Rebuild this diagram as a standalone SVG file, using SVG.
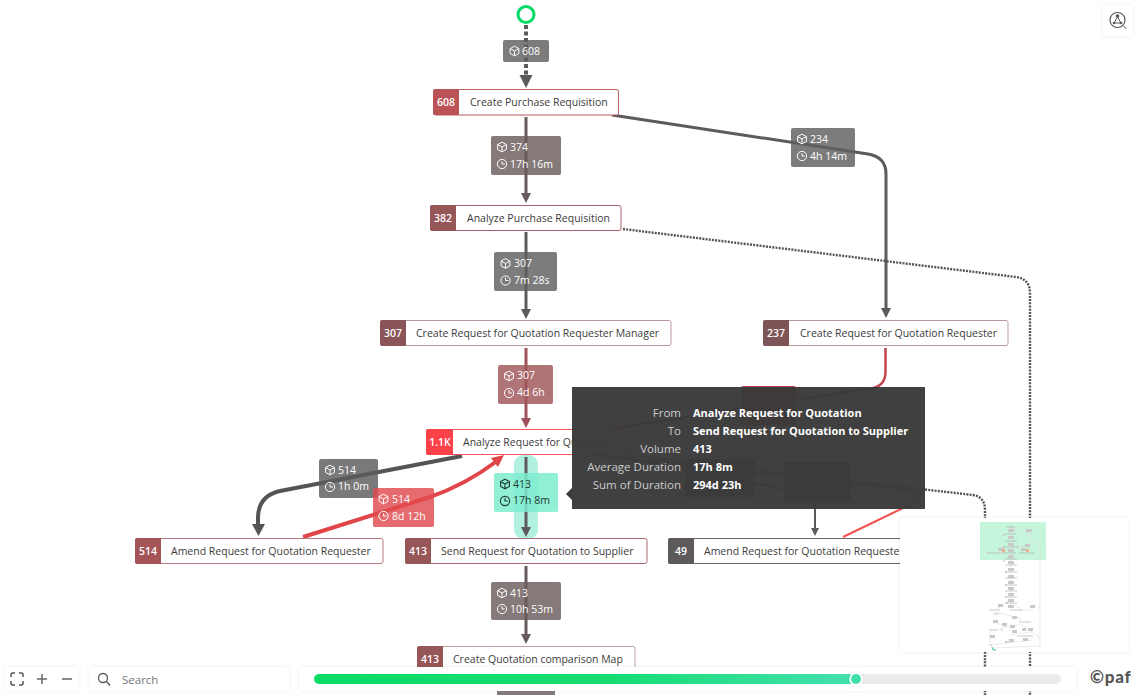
<svg xmlns="http://www.w3.org/2000/svg" xmlns:xlink="http://www.w3.org/1999/xlink" width="1141" height="695" viewBox="0 0 1141 695">
<style>
text{font-family:"Open Sans","Noto Sans","Liberation Sans",sans-serif}
.nb{fill:#fff;stroke-width:1}
.nt{font-size:10.5px;fill:#3c3c3c}
.nc{font-size:10.5px;fill:#fff;text-anchor:middle;font-weight:600}
.lt{font-size:10.5px;fill:#fff}
.ld{font-size:10.5px;fill:#1c3a33}
.e{fill:none;stroke-linecap:butt}
.dot{fill:none;stroke:#555;stroke-width:2.400;stroke-dasharray:2 1.200}
.tk{font-size:11.5px;fill:#ccc;text-anchor:end}
.tv{font-size:11px;fill:#fff;font-weight:700}
.ic{fill:none;stroke:#fff;stroke-width:.9}
.icd{fill:none;stroke:#1c3a33;stroke-width:1}
.pn{fill:#fff;filter:url(#sh)}
.mlb{fill:#c9c9c9;stroke:none}
</style>
<defs>
<filter id="sh" x="-10%" y="-30%" width="120%" height="160%"><feDropShadow dx="0" dy="0" stdDeviation="2" flood-color="#000" flood-opacity=".07"/></filter>
<symbol id="cube" viewBox="0 0 10 10" overflow="visible"><path d="M5 .6 9 2.8V7.2L5 9.4 1 7.2V2.8ZM1 2.8 5 5 9 2.8M5 5V9.4"/></symbol>
<symbol id="clock" viewBox="0 0 10 10" overflow="visible"><circle cx="5" cy="5" r="4.200"/><path d="M5 2.400V5H7.600"/></symbol>
<linearGradient id="sl" x1="0" x2="1" y1="0" y2="0"><stop offset="0" stop-color="#0edb66"/><stop offset=".55" stop-color="#16dd72"/><stop offset="1" stop-color="#45e0b0"/></linearGradient>
</defs>
<rect width="1141" height="695" fill="#fff"/>
<rect x="514" y="455" width="24" height="84" rx="9" fill="#b2f1e1"/>
<g id="connectors">
<path class="e" d="M526 25V78" stroke="#5c5a5a" stroke-width="4" stroke-dasharray="4 2.500"/>
<path d="M519.500 75H532.500L526 88Z" fill="#5c5a5a"/>
<path class="e" d="M526 117V195" stroke="#665a5c" stroke-width="3"/>
<path d="M521 193H531L526 203Z" fill="#665a5c"/>
<path class="e" d="M612 115 868 154Q886 157 886 174V310" stroke="#5c5a5a" stroke-width="3"/>
<path d="M881 308H891L886 318Z" fill="#5c5a5a"/>
<path class="e" d="M526 232V311" stroke="#5c5a5a" stroke-width="3"/>
<path d="M521 309H531L526 319Z" fill="#5c5a5a"/>
<path class="e" d="M526 348V420" stroke="#a0525a" stroke-width="3"/>
<path d="M521 418H531L526 428Z" fill="#a0525a"/>
<path class="e" d="M885.500 348V372Q885.500 385 873 388L622 427" stroke="#c0444c" stroke-width="2.500"/>
<path d="M622 423 612 429 623 431Z" fill="#c0444c"/>
<path class="e" d="M593 455 910 490Q920 492 920 497 920 503 903 508L843 537" stroke="#f25252" stroke-width="2"/>
<path class="dot" d="M623 229 1016 277Q1030 279 1030 293V695"/>
<path class="dot" d="M623 455 973 495Q985 497 985 510V695"/>
<path class="e" d="M625 458 795 491Q815 495 815 508V530" stroke="#5c5a5a" stroke-width="2"/>
<path d="M811 528H819L815 536Z" fill="#5c5a5a"/>
<path class="e" d="M462 456 280 491Q258 496 258 518V526" stroke="#555" stroke-width="4"/>
<path d="M252 524H265L258.500 536Z" fill="#555"/>
<path class="e" d="M303 537 430 497Q465 485 497 461" stroke="#e04649" stroke-width="4"/>
<path d="M491 458 504 455 498 467Z" fill="#e04649"/>
<path class="e" d="M526 457V529" stroke="#5c5a5a" stroke-width="3"/>
<path d="M521 527H531L526 537Z" fill="#5c5a5a"/>
<path class="e" d="M526 566V636" stroke="#665a5c" stroke-width="3"/>
<path d="M521 634H531L526 644Z" fill="#665a5c"/>
<path class="e" d="M526 672V695" stroke="#665a5c" stroke-width="3"/>
</g>
<g id="edge-labels">
<g id="lb-608"><rect x="503" y="40" width="46" height="22" rx="2" fill="#5f5f5f" fill-opacity=".82"/><use href="#cube" x="509" y="45.500" width="11" height="11" class="ic"/><text class="lt" x="522" y="55">608</text></g>
<g id="lb-374"><rect x="491" y="136" width="70" height="39" rx="2" fill="#6a5c5c" fill-opacity=".82"/><use href="#cube" x="496.500" y="141.500" width="11" height="11" class="ic"/><text class="lt" x="510" y="151">374</text><use href="#clock" x="496.500" y="158.500" width="11" height="11" class="ic"/><text class="lt" x="510" y="168">17h 16m</text></g>
<g id="lb-234"><rect x="791" y="128" width="64" height="39" rx="2" fill="#5f5f5f" fill-opacity=".82"/><use href="#cube" x="796.500" y="133.500" width="11" height="11" class="ic"/><text class="lt" x="810" y="143">234</text><use href="#clock" x="796.500" y="150.500" width="11" height="11" class="ic"/><text class="lt" x="810" y="160">4h 14m</text></g>
<g id="lb-307a"><rect x="494" y="252" width="63" height="39" rx="2" fill="#5f5f5f" fill-opacity=".82"/><use href="#cube" x="500" y="258" width="11" height="11" class="ic"/><text class="lt" x="514" y="267">307</text><use href="#clock" x="500" y="275" width="11" height="11" class="ic"/><text class="lt" x="514" y="284">7m 28s</text></g>
<g id="lb-307b"><rect x="498" y="365" width="55" height="39" rx="2" fill="#a05558" fill-opacity=".82"/><use href="#cube" x="503.500" y="370.500" width="11" height="11" class="ic"/><text class="lt" x="517" y="379">307</text><use href="#clock" x="503.500" y="387.500" width="11" height="11" class="ic"/><text class="lt" x="517" y="396">4d 6h</text></g>
<g id="lb-237"><rect x="741" y="386" width="55" height="39" rx="2" fill="#b8464c"/></g>
<g id="lb-49"><rect x="784" y="462" width="67" height="39" rx="2" fill="#a9474c"/></g>
<g id="lb-x"><rect x="685" y="459" width="70" height="38" rx="2" fill="#6a5c5c"/></g>
<g id="lb-514a"><rect x="319" y="459" width="59" height="39" rx="2" fill="#5c5c5c" fill-opacity=".82"/><use href="#cube" x="324.500" y="464.500" width="11" height="11" class="ic"/><text class="lt" x="338" y="474">514</text><use href="#clock" x="324.500" y="481.500" width="11" height="11" class="ic"/><text class="lt" x="338" y="490">1h 0m</text></g>
<g id="lb-514b"><rect x="373" y="488" width="61" height="39" rx="2" fill="#e04a4e" fill-opacity=".82"/><use href="#cube" x="378" y="493.500" width="11" height="11" class="ic"/><text class="lt" x="392" y="503">514</text><use href="#clock" x="378" y="510.500" width="11" height="11" class="ic"/><text class="lt" x="392" y="520">8d 12h</text></g>
<g id="lb-413a"><rect x="494" y="473" width="64" height="39" rx="2" fill="#7cecce" fill-opacity=".85"/><use href="#cube" x="499.500" y="478.500" width="11" height="11" class="icd"/><text class="ld" x="513" y="488">413</text><use href="#clock" x="499.500" y="495.500" width="11" height="11" class="icd"/><text class="ld" x="513" y="504">17h 8m</text></g>
<g id="lb-413b"><rect x="491" y="582" width="70" height="38" rx="2" fill="#6a5c5c" fill-opacity=".82"/><use href="#cube" x="496.500" y="587.500" width="11" height="11" class="ic"/><text class="lt" x="510" y="597">413</text><use href="#clock" x="496.500" y="603.500" width="11" height="11" class="ic"/><text class="lt" x="510" y="613">10h 53m</text></g>
<rect x="497" y="691" width="58" height="4" fill="#857a7a"/>
</g>
<circle id="start" cx="526" cy="14.500" r="8" fill="#fff" stroke="#04dc66" stroke-width="3"/>
<g id="n-create-pr"><rect class="nb" x="433.500" y="89.500" width="185" height="25.500" rx="2" stroke="#bb5a60"/><path d="M435 89H459V115H435Q433 115 433 113V91Q433 89 435 89Z" fill="#bb5255"/><text class="nc" x="446" y="106">608</text><text class="nt" x="470" y="106">Create Purchase Requisition</text></g>
<g id="n-analyze-pr"><rect class="nb" x="430.500" y="205.500" width="190.500" height="25" rx="2" stroke="#aa6068"/><path d="M432 205H456V231H432Q430 231 430 229V207Q430 205 432 205Z" fill="#975658"/><text class="nc" x="443" y="222">382</text><text class="nt" x="467" y="222">Analyze Purchase Requisition</text></g>
<g id="n-rfq-mgr"><rect class="nb" x="380.500" y="320.500" width="290.500" height="25" rx="2" stroke="#bd9a9c"/><path d="M382 320H406V346H382Q380 346 380 344V322Q380 320 382 320Z" fill="#8a5558"/><text class="nc" x="393" y="337">307</text><text class="nt" x="416" y="337">Create Request for Quotation Requester Manager</text></g>
<g id="n-rfq-req"><rect class="nb" x="763.500" y="320.500" width="244.500" height="25" rx="2" stroke="#bd9a9c"/><path d="M765 320H789V346H765Q763 346 763 344V322Q763 320 765 320Z" fill="#7d5557"/><text class="nc" x="776" y="337">237</text><text class="nt" x="800" y="337">Create Request for Quotation Requester</text></g>
<g id="n-analyze-rfq"><rect class="nb" x="426.500" y="429.500" width="198" height="25" rx="2" stroke="#f8555c"/><path d="M428 429H453V455H428Q426 455 426 453V431Q426 429 428 429Z" fill="#fb4248"/><text class="nc" x="440" y="446">1.1K</text><text class="nt" x="463" y="446">Analyze Request for Quotation</text></g>
<g id="n-amend-req"><rect class="nb" x="135.500" y="538.500" width="247.500" height="25" rx="2" stroke="#b87a7e"/><path d="M137 538H161V564H137Q135 564 135 562V540Q135 538 137 538Z" fill="#a55558"/><text class="nc" x="148" y="555">514</text><text class="nt" x="171" y="555">Amend Request for Quotation Requester</text></g>
<g id="n-send-rfq"><rect class="nb" x="405.500" y="538.500" width="241.500" height="25" rx="2" stroke="#aa6a70"/><path d="M407 538H431V564H407Q405 564 405 562V540Q405 538 407 538Z" fill="#975658"/><text class="nc" x="418" y="555">413</text><text class="nt" x="441" y="555">Send Request for Quotation to Supplier</text></g>
<g id="n-amend-49"><rect class="nb" x="668.500" y="538.500" width="245" height="25" rx="2" stroke="#666"/><path d="M670 538H694V564H670Q668 564 668 562V540Q668 538 670 538Z" fill="#5e5a5c"/><text class="nc" x="681" y="555">49</text><text class="nt" x="704" y="555">Amend Request for Quotation Requester</text></g>
<g id="n-compare"><rect class="nb" x="417.500" y="646.500" width="217.500" height="25" rx="2" stroke="#c0a0a2"/><path d="M419 646H443V672H419Q417 672 417 670V648Q417 646 419 646Z" fill="#975658"/><text class="nc" x="430" y="663">413</text><text class="nt" x="453" y="663">Create Quotation comparison Map</text></g>
<g id="tooltip">
<path d="M566 494 572 488V500Z" fill="#3a3a3a"/>
<rect x="572" y="387" width="353" height="122" fill="#3a3a3a" fill-opacity=".97"/>
<text class="tk" x="681" y="416.500">From</text><text class="tv" x="693" y="416.500">Analyze Request for Quotation</text>
<text class="tk" x="681" y="434.500">To</text><text class="tv" x="693" y="434.500">Send Request for Quotation to Supplier</text>
<text class="tk" x="681" y="452.500">Volume</text><text class="tv" x="693" y="452.500">413</text>
<text class="tk" x="681" y="470.500">Average Duration</text><text class="tv" x="693" y="470.500">17h 8m</text>
<text class="tk" x="681" y="488.500">Sum of Duration</text><text class="tv" x="693" y="488.500">294d 23h</text>
</g>
<g id="minimap">
<rect x="900" y="518" width="228" height="134" rx="4" class="pn"/>
<rect x="980" y="522" width="66" height="38" fill="#c5f5da"/>
<path d="M1011 525V609M1011 528 1031 534V541Q1040 541 1040 548V646L993 648M1011 547 1033 546M1000 553 1011 547M1028 553V558M1040 603 1038 610M996 609 1008 602M1022 610 1011 602M1020 610H1033M994 612 1020 618V622M995 622 1006 627M995 630 1020 624M1020 624 1038 636V640M990 630V645M990 645 1032 640M1009 635 1032 632" fill="none" stroke="#dedede" stroke-width=".6"/>
<path d="M1006 527h9M1005 534h11M1005 541h12M1003 547h16M1004 553h12M989 553h12M1019 553h16M1005 559h12M1005 565h12M1005 572h12M1005 578h12M1005 585h12M1005 591h12M1005 597h12M1005 603h12M989 610h11M1010 610h12M1019 622h12M993 614h6M989 630h8M1017 636h16M1005 642h5" fill="none" stroke="#a4a4a4" stroke-width=".6"/>
<g class="mlb"><rect x="1008" y="529" width="6" height="3"/><rect x="1026" y="529" width="6" height="3"/><rect x="1008" y="536" width="6" height="3"/><rect x="1008" y="543" width="6" height="3"/><rect x="1025" y="544" width="5" height="3"/><rect x="1008" y="549" width="6" height="3"/><rect x="998" y="548" width="5" height="3"/><rect x="1021" y="548" width="5" height="3"/><rect x="1008" y="555" width="6" height="3"/><rect x="1008" y="561" width="6" height="3"/><rect x="1008" y="568" width="6" height="3"/><rect x="1008" y="575" width="6" height="3"/><rect x="1008" y="581" width="6" height="3"/><rect x="1008" y="587" width="6" height="3"/><rect x="1008" y="593" width="6" height="3"/><rect x="1008" y="599" width="6" height="3"/><rect x="1008" y="605" width="6" height="3"/><rect x="998" y="604" width="5" height="3"/><rect x="1030" y="605" width="5" height="3"/><rect x="1012" y="616" width="5" height="3"/><rect x="993" y="620" width="5" height="3"/><rect x="1002" y="623" width="5" height="3"/><rect x="1010" y="625" width="5" height="3"/><rect x="1022" y="628" width="4" height="3"/><rect x="1028" y="628" width="5" height="3"/><rect x="1012" y="630" width="5" height="3"/><rect x="990" y="635" width="5" height="3"/><rect x="1009" y="639" width="5" height="3"/><rect x="1023" y="638" width="5" height="3"/></g>
<path d="M1002 547h2M1002 553h2M1003 561h2M1005 572h2M1005 585h2M1005 597h2M1006 603h2M1003 535h2M987 553h2M1005 642h2M1001 630h2M990 645h2" fill="none" stroke="#dca0a0" stroke-width=".8"/>
<rect x="1002" y="549" width="3" height="3" fill="#f0b090"/><rect x="1026" y="549" width="3" height="3" fill="#f0b090"/>
<path d="M992 647l1 3h3" fill="none" stroke="#2ec88a" stroke-width="1"/>
</g>
<g id="toolbar">
<rect x="5" y="667" width="74" height="24" rx="3" class="pn"/>
<path d="M11 677V675Q11 673 13 673H15M19 673H21Q23 673 23 675V677M23 681V683Q23 685 21 685H19M15 685H13Q11 685 11 683V681" fill="none" stroke="#555" stroke-width="1.500"/>
<path d="M37 679H47M42 674V684M62 679H72" fill="none" stroke="#666" stroke-width="1.500"/>
<rect x="89" y="667" width="200" height="24" rx="3" class="pn"/>
<circle cx="103" cy="678" r="4.500" fill="none" stroke="#555" stroke-width="1.300"/><path d="M106.500 681.500 110 685.500" stroke="#555" stroke-width="1.300"/>
<text x="122" y="684" font-size="11.500" fill="#777">Search</text>
<rect x="299" y="667" width="777" height="24" rx="3" class="pn"/>
<rect x="314" y="674" width="747" height="10" rx="5" fill="#ebebeb"/>
<rect x="314" y="674" width="542" height="10" rx="5" fill="url(#sl)"/>
<circle cx="856" cy="679" r="6.700" fill="#fff" filter="url(#sh)"/><circle cx="856" cy="679" r="5" fill="#40e0ae"/>
<text x="1090" y="683" font-size="17" font-weight="900" fill="#555" letter-spacing=".8" style="font-family:Lato,'DejaVu Sans',sans-serif">©paf</text>
</g>
<g id="layout-button">
<rect x="1103" y="5" width="30" height="31" rx="3" class="pn"/>
<circle cx="1117.500" cy="20" r="7.500" fill="none" stroke="#555" stroke-width="1.200"/>
<path d="M1117.500 17 1114 23H1121ZM1123 25.500 1126.500 29" fill="none" stroke="#555" stroke-width="1"/>
<circle cx="1117.500" cy="16" r="1.800" fill="#555"/><circle cx="1114" cy="23" r="1.300" fill="#555"/><circle cx="1121" cy="23" r="1.300" fill="#555"/>
</g>
</svg>
